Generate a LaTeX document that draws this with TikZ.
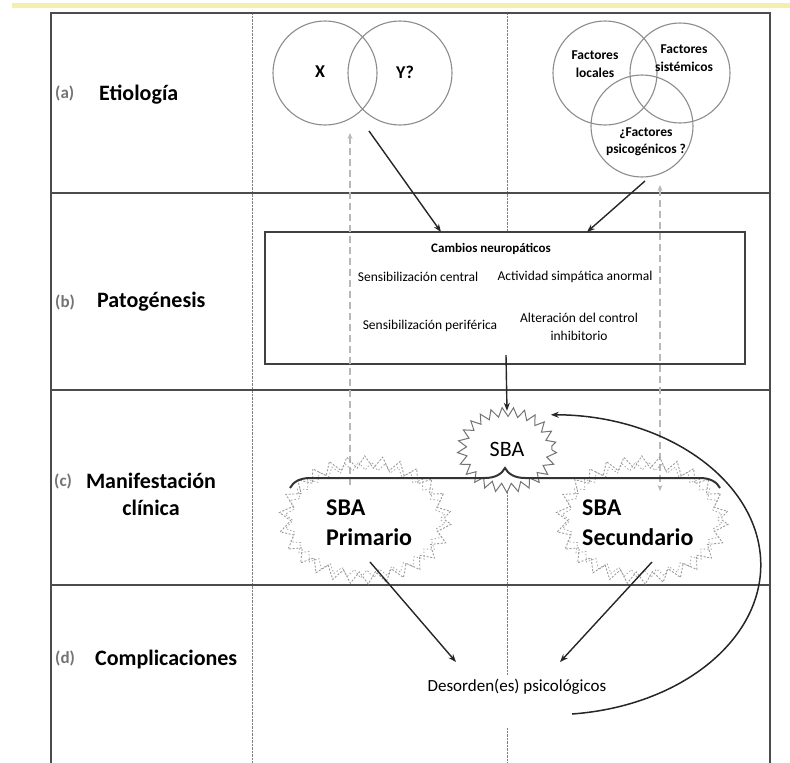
\documentclass[tikz,border=0pt]{standalone}
\usepackage{fontspec}
\setmainfont{Carlito}
\usetikzlibrary{arrows.meta,decorations.pathmorphing,decorations.pathreplacing,shapes.geometric}
\definecolor{topband}{RGB}{244,239,170}
\tikzset{
  frameline/.style={draw=black!70, line width=1.8pt},
  dotline/.style={draw=black!50, line width=0.8pt, dash pattern=on 0.7pt off 0.7pt},
  gdash/.style={draw=black!28, line width=1.2pt, dash pattern=on 7pt off 4pt},
  blk/.style={draw=black!85, line width=1.4pt, -{Stealth[length=8pt,width=6pt]}},
  venn/.style={circle, draw=black!45, line width=1.1pt, minimum size=104pt, inner sep=0pt},
  seclab/.style={anchor=west, inner sep=0pt, font=\bfseries\fontsize{22}{26}\selectfont},
  sectag/.style={anchor=west, inner sep=0pt, text=black!55, font=\bfseries\fontsize{17}{19}\selectfont},
  vtext/.style={inner sep=0pt, align=center, font=\bfseries\fontsize{13.5}{17.5}\selectfont},
  boxtext/.style={inner sep=0pt, align=center, font=\fontsize{13.5}{17.5}\selectfont},
  sbaz/.style={draw=black!55, line width=1pt, fill=white, decorate,
    decoration={zigzag, segment length=10.5pt, amplitude=4.5pt}},
  cloudz/.style={draw=black!40, line width=0.9pt, dash pattern=on 2pt off 1.6pt, decorate,
    decoration={zigzag, segment length=17pt, amplitude=6pt}},
  cloudzb/.style={draw=black!35, line width=0.8pt, dash pattern=on 1.5pt off 2pt, decorate,
    decoration={zigzag, segment length=13pt, amplitude=4pt}},
  sbatext/.style={anchor=west, inner sep=0pt, align=left, font=\bfseries\fontsize{24}{30}\selectfont}
}
\begin{document}
\begin{tikzpicture}[x=1pt,y=-1pt]
\useasboundingbox (0,0) rectangle (790,763);
% top band
\fill[topband] (12,3) rectangle (790,8);
% dotted column lines
\draw[dotline] (252,13) -- (252,763);
\draw[dotline] (507,13) -- (507,232);
\draw[dotline] (507,492) -- (507,675);
\draw[dotline] (507,728) -- (507,763);
% frame
\draw[frameline] (51,763) -- (51,13) -- (770,13) -- (770,763);
\draw[frameline] (51,193) -- (770,193);
\draw[frameline] (51,390) -- (770,390);
\draw[frameline] (51,585) -- (770,585);
% row labels
\node[sectag] (ta) at (55,93) {(a)};
\node[seclab] (la) at (99,95) {Etiología};
\node[sectag] (tb) at (55,302) {(b)};
\node[seclab] (lb) at (97,302) {Patogénesis};
\node[sectag] (tc) at (54,481) {(c)};
\node[inner sep=0pt, align=center, font=\bfseries\fontsize{22}{27}\selectfont] (lc) at (151,494) {Manifestación\\clínica};
\node[sectag] (td) at (55,658) {(d)};
\node[seclab] (ld) at (95,660) {Complicaciones};
% Venn diagrams
\node[venn] (cx) at (325,73) {};
\node[venn] (cy) at (400,73) {};
\node[inner sep=0pt, font=\bfseries\fontsize{18}{20}\selectfont] (tx) at (320,72) {X};
\node[inner sep=0pt, font=\bfseries\fontsize{18}{20}\selectfont] (ty) at (405,72) {Y?};
\node[venn] (cl) at (605,73) {};
\node[venn, minimum size=100pt] (cs) at (680,73) {};
\node[venn, minimum size=102pt] (cp) at (642,126) {};
\node[vtext] (tl) at (595,64) {Factores\\locales};
\node[vtext] (ts) at (684,58) {Factores\\sistémicos};
\node[vtext] (tp) at (646,142) {¿Factores\\psicogénicos ?};
% pathogenesis box
\node[draw=black!75, line width=1.8pt, fill=white, minimum width=480pt, minimum height=132pt, inner sep=0pt] (box) at (505,298) {};
\node[inner sep=0pt, font=\bfseries\fontsize{13}{16}\selectfont] (tcam) at (491,249) {Cambios neuropáticos};
\node[boxtext] (t1) at (418,277) {Sensibilización central};
\node[boxtext] (t2) at (575,277) {Actividad simpática anormal};
\node[boxtext] (t3) at (430,326) {Sensibilización periférica};
\node[boxtext] (t4) at (579,327) {Alteración del control\\inhibitorio};
% grey dashed arrows
\coordinate (dla) at (350,133);
\coordinate (dlb) at (350,486);
\coordinate (dra) at (660,185);
\coordinate (drb) at (660,491);
\draw[gdash, {Stealth[length=6pt,width=5pt]}-] (dla) -- (dlb);
\draw[gdash, {Stealth[length=6pt,width=5pt]}-{Stealth[length=6pt,width=5pt]}] (dra) -- (drb);
% clouds for primary / secondary
\draw[cloudz] (365,520) ellipse [x radius=80, y radius=58];
\draw[cloudzb] (365,520) ellipse [x radius=76, y radius=54];
\draw[cloudz] (642,520) ellipse [x radius=80, y radius=58];
\draw[cloudzb] (642,520) ellipse [x radius=76, y radius=54];
\node[sbatext] (prim) at (326,523) {SBA\\Primario};
\node[sbatext] (sec) at (582,523) {SBA\\Secundario};
% central SBA
\draw[sbaz] (507,450) ellipse [x radius=45, y radius=38];
\node[ellipse, minimum width=92pt, minimum height=78pt, inner sep=0pt] (sba) at (507,450) {};
\node[inner sep=0pt, font=\fontsize{22}{24}\selectfont] (tsba) at (507,449) {SBA};
% brace
\draw[draw=black!80, line width=2pt, decorate, decoration={brace, amplitude=20pt}] (290,488) -- (720,488);
% solid arrows
\coordinate (a1s) at (369,131);
\coordinate (a1e) at (441,232);
\coordinate (a2s) at (645,181);
\coordinate (a2e) at (587,232);
\coordinate (a3s) at (506,355);
\draw[blk] (a1s) -- (a1e);
\draw[blk] (a2s) -- (a2e);
\draw[blk] (a3s) -- (sba.north);
\coordinate (p1) at (370,562);
\coordinate (p2) at (652,562);
\coordinate (d1) at (456,662);
\coordinate (d2) at (560,662);
\node[inner sep=0pt, font=\fontsize{17}{20}\selectfont] (des) at (517,687) {Desorden(es) psicológicos};
\draw[blk] (p1) -- (d1);
\draw[blk] (p2) -- (d2);
% feedback arc
\coordinate (fb) at (572,714);
\draw[blk, line width=1.5pt] (fb) arc [start angle=84.2, end angle=-90, x radius=210, y radius=150];
\end{tikzpicture}
\end{document}
